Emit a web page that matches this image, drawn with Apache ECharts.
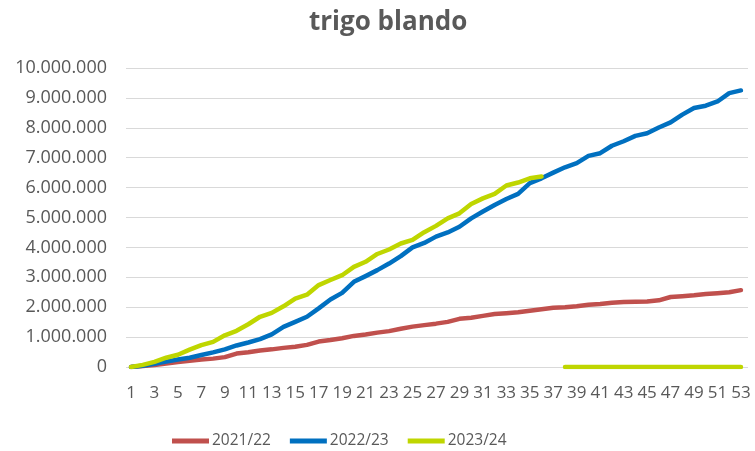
<!DOCTYPE html>
<html>
<head>
<meta charset="utf-8">
<script src="https://cdn.jsdelivr.net/npm/echarts@6/dist/echarts.min.js"></script>
<style>
  html, body { margin: 0; padding: 0; background: #ffffff; }
  #chart { width: 755px; height: 451px; }
</style>
</head>
<body>
<div id="chart"></div>
<script>
// Weekly cumulative volumes (tonnes) of soft wheat per marketing year
const weeks = [1,2,3,4,5,6,7,8,9,10,11,12,13,14,15,16,17,18,19,20,21,22,23,24,25,26,27,
  28,29,30,31,32,33,34,35,36,37,38,39,40,41,42,43,44,45,46,47,48,49,50,51,52,53];

const xTickLabels = [1,3,5,7,9,11,13,15,17,19,21,23,25,27,29,31,33,35,37,39,41,43,45,47,49,51,53];

const seriesNames = ['2021/22', '2022/23', '2023/24'];

const values2021 = [0,30000,70000,120000,170000,210000,250000,280000,330000,450000,
  490000,550000,590000,640000,680000,740000,850000,900000,960000,1040000,
  1090000,1150000,1200000,1280000,1350000,1400000,1450000,1510000,1610000,1650000,
  1710000,1770000,1800000,1830000,1880000,1930000,1980000,2000000,2030000,2080000,
  2110000,2150000,2170000,2180000,2190000,2230000,2340000,2370000,2400000,2440000,
  2470000,2500000,2570000];

const values2022 = [0,40000,110000,180000,250000,310000,400000,490000,590000,720000,
  820000,930000,1090000,1340000,1510000,1680000,1960000,2260000,2480000,2850000,
  3040000,3240000,3460000,3710000,4000000,4150000,4360000,4500000,4690000,4970000,
  5200000,5420000,5620000,5790000,6150000,6310000,6500000,6680000,6820000,7060000,
  7150000,7400000,7550000,7730000,7820000,8010000,8180000,8440000,8660000,8740000,
  8880000,9160000,9250000];

const values2023 = [0,70000,170000,310000,410000,580000,730000,840000,1060000,1210000,
  1430000,1680000,1810000,2030000,2290000,2420000,2740000,2910000,3070000,3350000,
  3520000,3780000,3930000,4130000,4250000,4510000,4720000,4970000,5140000,5450000,
  5640000,5790000,6070000,6170000,6310000,6370000,null,0,0,0,
  0,0,0,0,0,0,0,0,0,0,
  0,0,0];

const seriesColors = ['#c0504d', '#0070c0', '#bfd600'];

const FONT = "'Open Sans', 'Liberation Sans', sans-serif";
const TEXT = '#595959';

function dotThousands(v) {
  return String(Math.round(v)).replace(/\B(?=(\d{3})+(?!\d))/g, '.');
}

function pairs(vals) {
  return weeks.map((w, i) => [w, vals[i]]);
}

const allValues = [values2021, values2022, values2023];

const chart = echarts.init(document.getElementById('chart'), null, { renderer: 'canvas' });

chart.setOption({
  animation: false,
  backgroundColor: '#ffffff',
  title: {
    text: 'trigo blando',
    left: 304,
    top: 5,
    textStyle: { fontFamily: FONT, fontSize: 26, fontWeight: 'bold', color: TEXT }
  },
  legend: {
    left: 167,
    top: 428,
    itemWidth: 37,
    itemHeight: 5,
    itemGap: 19,
    icon: 'rect',
    textStyle: { fontFamily: FONT, fontSize: 15.5, color: TEXT, padding: [0, 0, 0, -2] },
    data: seriesNames
  },
  grid: { left: 126, right: 7, top: 68, bottom: 84, containLabel: false },
  xAxis: {
    type: 'value',
    min: 0.574,
    max: 53.6,
    axisLine: { show: false },
    axisTick: { show: false },
    splitLine: { show: false },
    axisLabel: {
      customValues: xTickLabels,
      margin: 18,
      fontFamily: FONT,
      fontSize: 17,
      color: TEXT,
      hideOverlap: false,
      formatter: v => String(v)
    }
  },
  yAxis: {
    type: 'value',
    min: 0,
    max: 10000000,
    interval: 1000000,
    axisLine: { show: false },
    axisTick: { show: false },
    splitLine: { lineStyle: { color: '#d9d9d9', width: 1 } },
    axisLabel: {
      margin: 19,
      fontFamily: FONT,
      fontSize: 18,
      color: TEXT,
      formatter: dotThousands
    }
  },
  series: seriesNames.map((name, i) => ({
    name: name,
    type: 'line',
    data: pairs(allValues[i]),
    showSymbol: false,
    symbol: 'none',
    connectNulls: false,
    color: seriesColors[i],
    lineStyle: { width: 4.5, color: seriesColors[i], cap: 'round', join: 'round' }
  }))
});
</script>
</body>
</html>
